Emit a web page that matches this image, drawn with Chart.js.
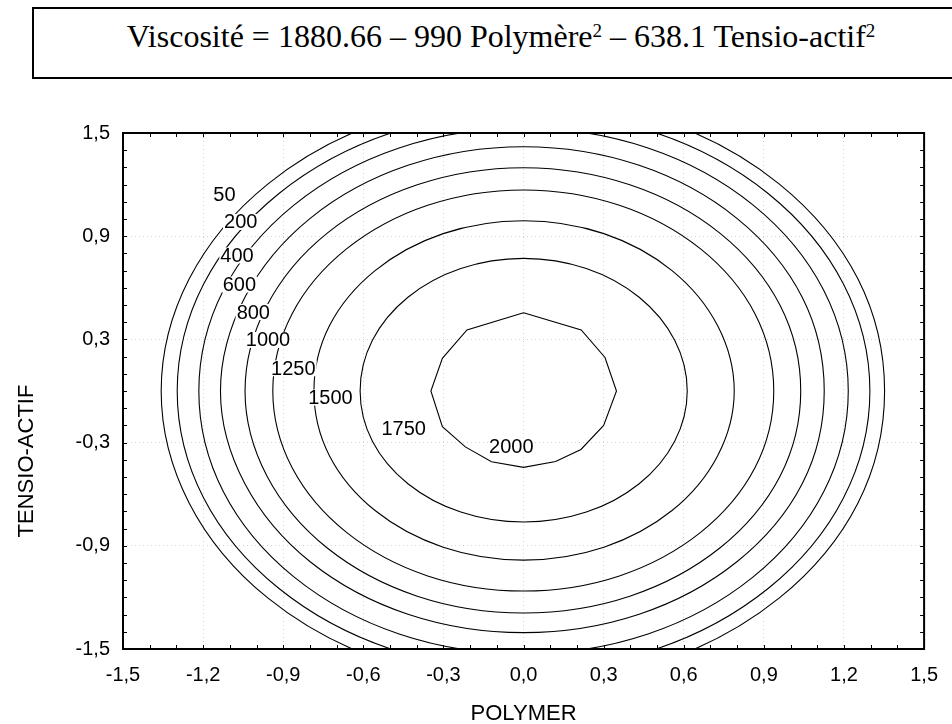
<!DOCTYPE html>
<html>
<head>
<meta charset="utf-8">
<script src="https://cdn.jsdelivr.net/npm/chart.js@4.4.1/dist/chart.umd.min.js"></script>
<style>
  html, body { margin: 0; padding: 0; background: #fff; }
  body { width: 952px; height: 724px; position: relative; overflow: hidden; }
  #chart-wrap { position: absolute; left: 0; top: 0; width: 952px; height: 724px; }
  #formula {
    position: absolute; left: 32px; top: 7px; width: 934px; height: 68px;
    border: 2px solid #000; background: #fff;
  }
  #formula .txt {
    position: absolute; left: 0; right: 0; top: 11px; text-align: center;
    font: 32px/32px "Liberation Serif", "Times New Roman", serif; color: #000; white-space: nowrap;
  }
  #formula sup { font-size: 19px; vertical-align: 0; position: relative; top: -10px; }
</style>
</head>
<body>
<div id="chart-wrap"><canvas id="contour"></canvas></div>
<div id="formula"><div class="txt">Viscosité = 1880.66 – 990 Polymère<sup>2</sup> – 638.1 Tensio-actif<sup>2</sup></div></div>

<script>
// ── Data ─────────────────────────────────────────────────────────────────────

const levels = [2000, 1750, 1500, 1250, 1000, 800, 600, 400, 200];

// points des isolignes [polymer, tensio-actif]
const c2000 = [[0,0.455],[0.216,0.355],[0.305,0.195],[0.348,0],[0.3,-0.2],[0.215,-0.34],[0.12,-0.41],[0,-0.444],[-0.12,-0.411],[-0.218,-0.325],[-0.304,-0.208],[-0.347,0],[-0.304,0.19],[-0.212,0.355],[0,0.455]];
const c1750 = [[0,0.771],[0.235,0.712],[0.433,0.545],[0.566,0.295],[0.613,0],[0.566,-0.292],[0.433,-0.539],[0.235,-0.704],[0,-0.762],[-0.235,-0.704],[-0.433,-0.539],[-0.566,-0.292],[-0.612,0],[-0.566,0.295],[-0.433,0.545],[-0.235,0.712],[0,0.771]];
const c1500 = [[0,0.99],[0.301,0.915],[0.556,0.7],[0.727,0.379],[0.789,0],[0.727,-0.376],[0.556,-0.695],[0.301,-0.908],[0,-0.983],[-0.301,-0.908],[-0.556,-0.695],[-0.727,-0.376],[-0.785,0],[-0.727,0.379],[-0.556,0.7],[-0.301,0.915],[0,0.99]];
const c1250 = [[0,1.169],[0.359,1.08],[0.663,0.826],[0.867,0.448],[0.937,0],[0.867,-0.445],[0.663,-0.822],[0.359,-1.075],[0,-1.163],[-0.359,-1.075],[-0.663,-0.822],[-0.867,-0.445],[-0.939,0],[-0.867,0.448],[-0.663,0.826],[-0.359,1.08],[0,1.169]];
const c1000 = [[0,1.298],[0.398,1.199],[0.735,0.918],[0.961,0.497],[1.038,0],[0.961,-0.494],[0.735,-0.913],[0.398,-1.193],[0,-1.291],[-0.398,-1.193],[-0.735,-0.913],[-0.961,-0.494],[-1.043,0],[-0.961,0.497],[-0.735,0.918],[-0.398,1.199],[0,1.298]];
const c800 = [[0,1.42],[0.433,1.312],[0.799,1.004],[1.044,0.544],[1.126,0],[1.044,-0.538],[0.799,-0.993],[0.433,-1.298],[0,-1.405],[-0.433,-1.298],[-0.799,-0.993],[-1.044,-0.538],[-1.135,0],[-1.044,0.544],[-0.799,1.004],[-0.433,1.312],[0,1.42]];
const c600 = [[0,1.529],[0.466,1.413],[0.86,1.081],[1.124,0.586],[1.216,0],[1.124,-0.586],[0.86,-1.081],[0.466,-1.413],[0,-1.529],[-0.466,-1.413],[-0.86,-1.081],[-1.124,-0.586],[-1.216,0],[-1.124,0.586],[-0.86,1.081],[-0.466,1.413],[0,1.529]];
const c400 = [[0,1.623],[0.497,1.5],[0.917,1.147],[1.198,0.622],[1.297,0],[1.198,-0.622],[0.917,-1.147],[0.497,-1.5],[0,-1.623],[-0.497,-1.5],[-0.917,-1.147],[-1.198,-0.622],[-1.297,0],[-1.198,0.622],[-0.917,1.147],[-0.497,1.5],[0,1.623]];
const c200 = [[0,1.702],[0.519,1.573],[0.958,1.203],[1.252,0.652],[1.352,0],[1.252,-0.652],[0.958,-1.203],[0.519,-1.573],[0,-1.702],[-0.519,-1.573],[-0.958,-1.203],[-1.252,-0.652],[-1.357,0],[-1.252,0.652],[-0.958,1.203],[-0.519,1.573],[0,1.702]];

// étiquettes des isolignes
const labelText = ['50', '200', '400', '600', '800', '1000', '1250', '1500', '1750', '2000'];
const labelX = [-1.12, -1.059, -1.073, -1.064, -1.012, -0.957, -0.862, -0.723, -0.449, -0.046];
const labelY = [1.142, 0.983, 0.788, 0.619, 0.459, 0.297, 0.132, -0.038, -0.217, -0.324];

// graduations
const xTickValues = [-1.5, -1.2, -0.9, -0.6, -0.3, 0, 0.3, 0.6, 0.9, 1.2, 1.5];
const xTickLabels = ['-1,5', '-1,2', '-0,9', '-0,6', '-0,3', '0,0', '0,3', '0,6', '0,9', '1,2', '1,5'];
const yTickValues = [-1.5, -0.9, -0.3, 0.3, 0.9, 1.5];
const yTickLabels = ['-1,5', '-0,9', '-0,3', '0,3', '0,9', '1,5'];

const xTitle = 'POLYMER';
const yTitle = 'TENSIO-ACTIF';

// ── Chart ────────────────────────────────────────────────────────────────────

const FONT = '"Liberation Sans", Arial, sans-serif';
const contourSets = [c2000, c1750, c1500, c1250, c1000, c800, c600, c400, c200];

// courbe fermée : un voisin en plus a chaque bout (segment cache) pour lisser la jointure
function closedData(pts) {
  const n = pts.length;
  const seq = [pts[n - 2], ...pts, pts[1]];
  return seq.map(p => ({ x: p[0], y: p[1] }));
}

const datasets = contourSets.map((pts, i) => {
  const last = pts.length + 1;
  return {
    label: String(levels[i]),
    data: closedData(pts),
    showLine: true,
    borderColor: '#000',
    borderWidth: 1.1,
    pointRadius: 0,
    tension: i === 0 ? 0 : 0.34,
    clip: 0,
    segment: {
      borderColor: c => (c.p0DataIndex === 0 || c.p1DataIndex === last) ? 'rgba(0,0,0,0)' : undefined
    }
  };
});

const decorPlugin = {
  id: 'decor',
  afterDatasetsDraw(chart) {
    const { ctx, chartArea: a, scales: { x, y } } = chart;
    ctx.save();

    // étiquettes
    ctx.font = '20px ' + FONT;
    ctx.textAlign = 'center';
    ctx.textBaseline = 'middle';
    labelText.forEach((t, i) => {
      const px = x.getPixelForValue(labelX[i]);
      const py = y.getPixelForValue(labelY[i]);
      const w = ctx.measureText(t).width;
      ctx.fillStyle = '#fff';
      ctx.fillRect(px - w / 2 - 1, py - 8, w + 2, 16);
      ctx.fillStyle = '#000';
      ctx.fillText(t, px, py + 1);
    });

    // cadre
    ctx.strokeStyle = '#000';
    ctx.lineWidth = 2;
    ctx.strokeRect(a.left, a.top, a.right - a.left, a.bottom - a.top);

    // petites graduations vers l'interieur
    ctx.lineWidth = 1;
    ctx.beginPath();
    for (let i = -15; i <= 15; i++) {
      const px = Math.round(x.getPixelForValue(i / 10)) + 0.5;
      const py = Math.round(y.getPixelForValue(i / 10)) + 0.5;
      ctx.moveTo(px, a.bottom); ctx.lineTo(px, a.bottom - 4);
      ctx.moveTo(px, a.top); ctx.lineTo(px, a.top + 4);
      ctx.moveTo(a.left, py); ctx.lineTo(a.left + 4, py);
      ctx.moveTo(a.right, py); ctx.lineTo(a.right - 4, py);
    }
    ctx.stroke();

    // titres des axes
    ctx.fillStyle = '#000';
    ctx.font = '22px ' + FONT;
    ctx.fillText(xTitle, (a.left + a.right) / 2, 714);
    ctx.translate(27, 461);
    ctx.rotate(-Math.PI / 2);
    ctx.fillText(yTitle, 0, 0);
    ctx.restore();
  }
};

new Chart(document.getElementById('contour'), {
  type: 'scatter',
  data: { datasets },
  options: {
    responsive: true,
    maintainAspectRatio: false,
    animation: false,
    layout: { padding: { top: 133, right: 17, bottom: 0, left: 0 } },
    plugins: { legend: { display: false }, tooltip: { enabled: false } },
    elements: { line: { capBezierPoints: false } },
    scales: {
      x: {
        type: 'linear', min: -1.5, max: 1.5,
        afterBuildTicks: s => { s.ticks = xTickValues.map(v => ({ value: v })); },
        afterFit: s => { s.height = 75; },
        ticks: {
          autoSkip: false, maxRotation: 0, padding: 14, color: '#000',
          font: { family: FONT, size: 20 },
          callback: (v, i) => xTickLabels[i]
        },
        grid: { color: '#d4d4d4', lineWidth: 1, drawTicks: false },
        border: { display: false, dash: [1, 3] }
      },
      y: {
        type: 'linear', min: -1.5, max: 1.5,
        afterBuildTicks: s => { s.ticks = yTickValues.map(v => ({ value: v })); },
        afterFit: s => { s.width = 123; },
        ticks: {
          autoSkip: false, padding: 13, color: '#000',
          font: { family: FONT, size: 20 },
          callback: (v, i) => yTickLabels[i]
        },
        grid: { color: '#d4d4d4', lineWidth: 1, drawTicks: false },
        border: { display: false, dash: [1, 3] }
      }
    }
  },
  plugins: [decorPlugin]
});
</script>
</body>
</html>
